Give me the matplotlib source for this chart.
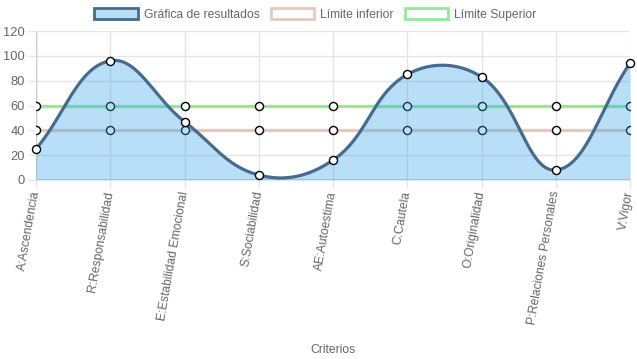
import numpy as np
import matplotlib
matplotlib.use("Agg")
import matplotlib.pyplot as plt
from matplotlib.patches import Patch

plt.rcParams['font.family'] = ['Liberation Sans', 'DejaVu Sans']

criterios = ['A:Ascendencia', 'R:Responsabilidad', 'E:Estabilidad Emocional',
             'S:Sociabilidad', 'AE:Autoestima', 'C:Cautela', 'O:Originalidad',
             'P:Relaciones Personales', 'V:Vigor']
resultados = [25, 96, 47, 4, 16, 85, 83, 8, 94]
limite_inferior = [40, 40, 40, 40, 40, 40, 40, 40, 40]
limite_superior = [60, 60, 60, 60, 60, 60, 60, 60, 60]
y_ticks = [0, 20, 40, 60, 80, 100, 120]

LINE = '#456b8e'
FILL = (54 / 255, 162 / 255, 235 / 255, 0.35)
LOW = '#e6c9bd'
HIGH = '#98e698'
GRID = '#e5e5e5'
TXT = '#666666'

fig = plt.figure(figsize=(6.37, 3.59), dpi=100)
ax = fig.add_axes([36 / 637, 1 - 180 / 359, 594 / 637, 149 / 359])
x = np.arange(len(criterios))
ax.set_xlim(0, len(criterios) - 1)
ax.set_ylim(0, 120)


def spline(xs, ys, t=0.4, n=40):
    # chart.js style bezier, computed in pixel space
    pts = ax.transData.transform(np.column_stack([xs, ys]))
    out = [pts[0]]
    ctrl = []
    for i in range(len(pts)):
        p = pts[max(i - 1, 0)]
        c = pts[i]
        nx = pts[min(i + 1, len(pts) - 1)]
        d01 = np.hypot(*(c - p))
        d12 = np.hypot(*(nx - c))
        s = d01 + d12
        s01 = d01 / s if s else 0
        s12 = d12 / s if s else 0
        ctrl.append((c - t * s01 * (nx - p), c + t * s12 * (nx - p)))
    tt = np.linspace(0, 1, n)[1:, None]
    for i in range(len(pts) - 1):
        p0, p3 = pts[i], pts[i + 1]
        p1, p2 = ctrl[i][1], ctrl[i + 1][0]
        seg = ((1 - tt) ** 3 * p0 + 3 * (1 - tt) ** 2 * tt * p1
               + 3 * (1 - tt) * tt ** 2 * p2 + tt ** 3 * p3)
        out.extend(seg)
    data = ax.transData.inverted().transform(np.array(out))
    return data[:, 0], np.clip(data[:, 1], 0, 120)


# grid
for xi in x:
    ax.axvline(xi, color=GRID, lw=1, zorder=0)
for yt in y_ticks[1:]:
    ax.axhline(yt, color=GRID, lw=1, zorder=0)
ax.axhline(0, color='#cccccc', lw=2, zorder=1)
ax.axvline(0, color='#cccccc', lw=1, zorder=1)

mk = dict(marker='o', ms=5.8, mfc='white', mec='black', mew=1.0)
ax.plot(x, limite_inferior, color=LOW, lw=2.3, zorder=2, **mk)
ax.plot(x, limite_superior, color=HIGH, lw=2.3, zorder=2, **mk)

sx, sy = spline(x, resultados)
ax.fill_between(sx, 0, sy, color=FILL, lw=0, zorder=3)
ax.plot(sx, sy, color=LINE, lw=2.3, zorder=4, solid_capstyle='round')
ax.plot(x, resultados, ls='none', zorder=5, clip_on=False, **mk)

for s in ax.spines.values():
    s.set_visible(False)
ax.set_yticks(y_ticks)
ax.set_xticks(x)
ax.set_xticklabels(criterios, rotation=80, ha='right', va='center',
                   rotation_mode='anchor')
ax.tick_params(axis='both', colors=GRID, labelcolor=TXT, labelsize=8.7,
               length=6, width=1)
ax.tick_params(axis='x', pad=2)
ax.tick_params(axis='y', pad=2)
for lab in ax.get_yticklabels():
    lab.set_fontsize(9.3)
ax.set_xlabel('Criterios', color=TXT, fontsize=8.7)
ax.xaxis.set_label_coords(0.5, -1.10)

handles = [Patch(facecolor=FILL, edgecolor=LINE, lw=2),
           Patch(facecolor='white', edgecolor=LOW, lw=2),
           Patch(facecolor='white', edgecolor=HIGH, lw=2)]
leg = fig.legend(handles, ['Gráfica de resultados', 'Límite inferior', 'Límite Superior'],
                 loc='upper center', bbox_to_anchor=(0.495, 1.0), ncol=3,
                 frameon=False, fontsize=8.7, handlelength=3.6, handleheight=0.95,
                 handletextpad=0.5, columnspacing=0.9, borderaxespad=0.3)
for t in leg.get_texts():
    t.set_color(TXT)

fig.savefig('out.png', dpi=100)
